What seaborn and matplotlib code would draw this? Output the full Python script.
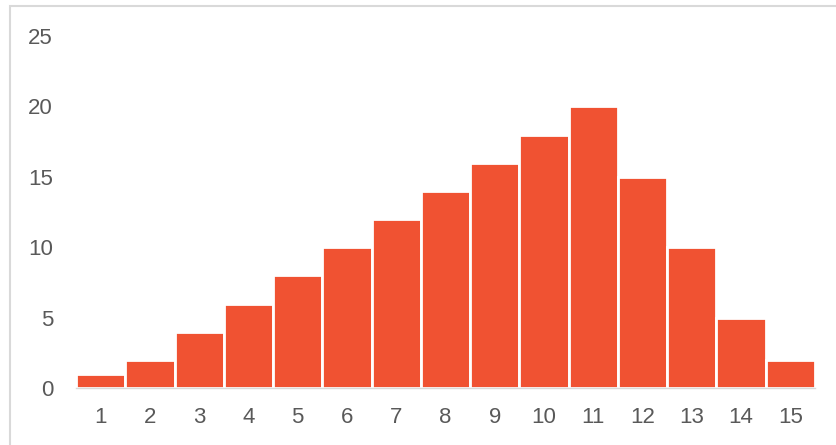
import matplotlib
matplotlib.use("Agg")
import matplotlib.pyplot as plt
from matplotlib.patches import Rectangle
import seaborn as sns
import pandas as pd

categories = ["1", "2", "3", "4", "5", "6", "7", "8", "9", "10", "11", "12", "13", "14", "15"]
values = [1, 2, 4, 6, 8, 10, 12, 14, 16, 18, 20, 15, 10, 5, 2]
y_ticks = [0, 5, 10, 15, 20, 25]

sns.set_theme(style="white")
plt.rcParams["font.family"] = ["Liberation Sans", "DejaVu Sans"]

df = pd.DataFrame({"bin": categories, "count": values})

fig = plt.figure(figsize=(8.37, 4.45), dpi=100)
ax = fig.add_axes([0.0908, 0.1281, 0.8829, 0.7910])

sns.barplot(data=df, x="bin", y="count", color="#F05232", saturation=1,
            width=1.0, edgecolor="white", linewidth=2.0, ax=ax)

ax.set_ylim(0, 25)
ax.set_xlim(-0.5, len(categories) - 0.5)
ax.set_yticks(y_ticks)
ax.set_yticklabels([str(t) for t in y_ticks])
ax.set_xlabel("")
ax.set_ylabel("")
ax.tick_params(axis="both", length=0, labelsize=16, colors="#595959")
ax.tick_params(axis="y", pad=16.5)
ax.tick_params(axis="x", pad=13.5)

for side in ["top", "right", "left"]:
    ax.spines[side].set_visible(False)
ax.spines["bottom"].set_color("#D9D9D9")
ax.spines["bottom"].set_linewidth(1.0)

# light frame around the chart area
fig.patches.append(Rectangle((10 / 837, -0.1), 1.2, (445 - 6) / 445 + 0.1,
                             transform=fig.transFigure, fill=False,
                             edgecolor="#D9D9D9", linewidth=1.5, zorder=0))

fig.savefig("out.png", dpi=100)
